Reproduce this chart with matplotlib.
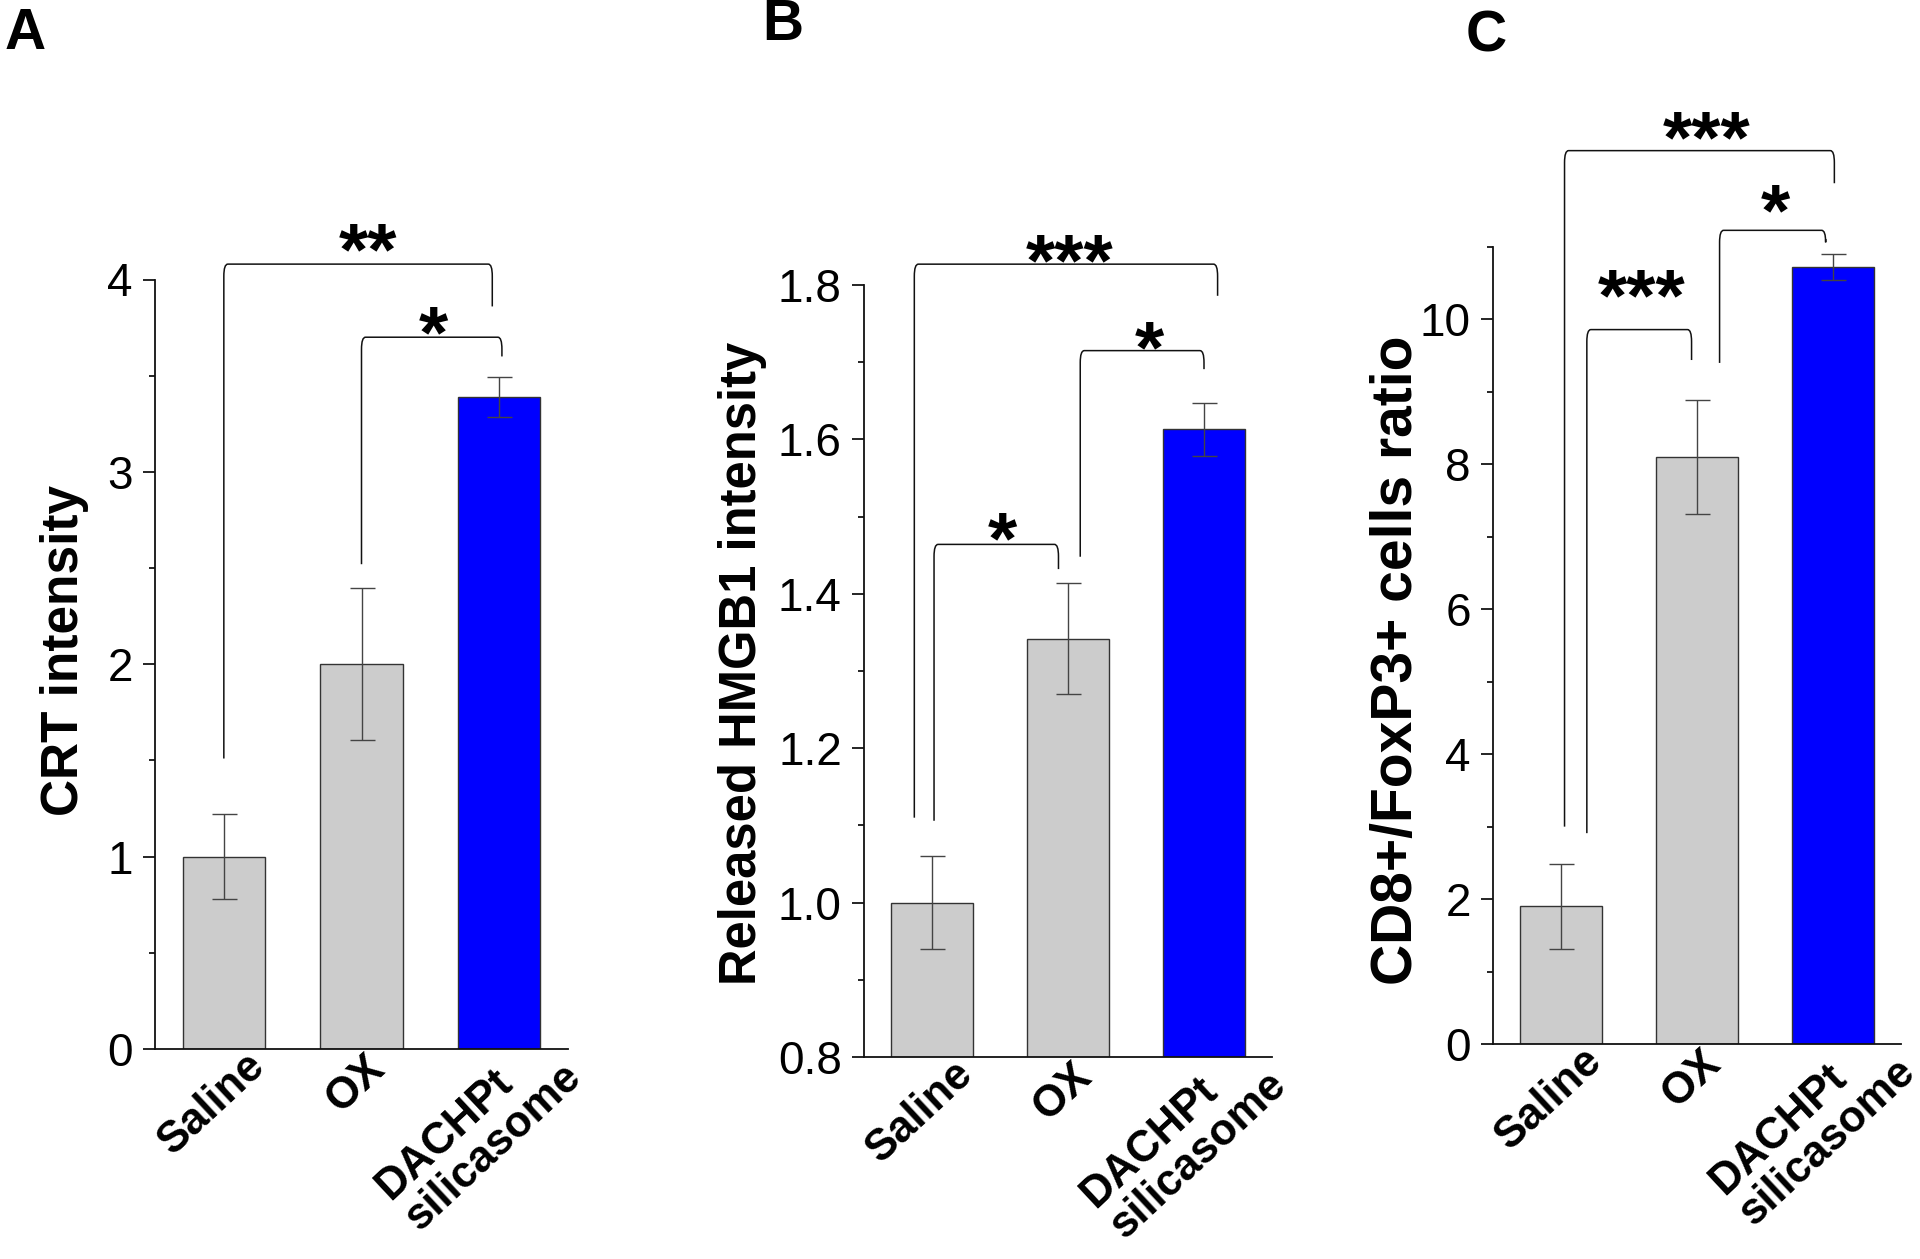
import matplotlib
matplotlib.use("Agg")
import matplotlib.pyplot as plt
from matplotlib.path import Path
from matplotlib.patches import PathPatch
from matplotlib.transforms import ScaledTranslation
from matplotlib.ticker import MultipleLocator, FormatStrFormatter

plt.rcParams['font.family'] = ['Liberation Sans', 'DejaVu Sans']

# ---------------- data ----------------
categories = ["Saline", "OX", "DACHPt\nsilicasome"]
bar_colors = ["#cccccc", "#cccccc", "#0000ff"]

crt_mean = [1.0, 2.0, 3.39]
crt_err = [0.22, 0.395, 0.105]

hmgb1_mean = [1.0, 1.342, 1.613]
hmgb1_err = [0.06, 0.072, 0.034]

ratio_mean = [1.9, 8.1, 10.72]
ratio_err = [0.585, 0.79, 0.18]

# significance brackets: (x_left, x_right, top, left_leg_bottom, right_leg_bottom, label, label_x, label_y)
crt_brackets = [
    (0.0, 1.95, 4.08, 1.51, 3.86, "**", 1.05, 4.24),
    (1.0, 2.02, 3.70, 2.52, 3.60, "*", 1.52, 3.81),
]
hmgb1_brackets = [
    (-0.13, 2.10, 1.827, 1.11, 1.786, "***", 1.01, 1.852),
    (0.015, 0.93, 1.464, 1.106, 1.432, "*", 0.52, 1.493),
    (1.09, 2.00, 1.715, 1.448, 1.691, "*", 1.596, 1.740),
]
ratio_brackets = [
    (0.026, 2.01, 12.33, 3.00, 11.88, "***", 1.07, 12.74),
    (0.19, 0.96, 9.86, 2.91, 9.44, "***", 0.59, 10.55),
    (1.166, 1.946, 11.23, 9.40, 11.11, "*", 1.58, 11.73),
]

crt_label = "CRT intensity"
hmgb1_label = "Released HMGB1 intensity"
ratio_label = "CD8+/FoxP3+ cells ratio"

# ---------------- figure ----------------
W, H = 1920, 1259
fig = plt.figure(figsize=(W / 100, H / 100), dpi=100)

# per-category label nudges in pixels (dx, box-top gap below axis)
label_nudge = [(-12, -4), (-6, -1), (-20, -24)]


def px_rect(left, right, top, bottom):
    return [left / W, 1 - bottom / H, (right - left) / W, (bottom - top) / H]


def draw_panel(rect, means, errs, ylim, major, minor, fmt, brackets):
    ax = fig.add_axes(rect)
    x = list(range(len(means)))
    ax.bar(x, means, width=0.6, color=bar_colors, edgecolor="#333333",
           linewidth=1.0, zorder=2)
    ax.errorbar(x, means, yerr=errs, fmt="none", ecolor="#444444",
                elinewidth=1.0, capsize=9, capthick=1.0, zorder=3)
    ax.set_xlim(-0.5, 2.5)
    ax.set_ylim(*ylim)
    for s in ("top", "right"):
        ax.spines[s].set_visible(False)
    for s in ("left", "bottom"):
        ax.spines[s].set_linewidth(1.3)
        ax.spines[s].set_color("#111111")
    ax.yaxis.set_major_locator(MultipleLocator(major))
    ax.yaxis.set_minor_locator(MultipleLocator(minor))
    ax.yaxis.set_major_formatter(FormatStrFormatter(fmt))
    ax.tick_params(axis="y", which="major", length=9, width=1.2,
                   labelsize=33, pad=7, direction="out")
    ax.tick_params(axis="y", which="minor", length=4.5, width=1.2,
                   direction="out")
    ax.set_xticks([])

    # category labels
    for xi, lab, (dx, gap) in zip(x, categories, label_nudge):
        tr = ax.get_xaxis_transform() + ScaledTranslation(
            dx / 100, -gap / 100, fig.dpi_scale_trans)
        ax.text(xi, 0, lab, transform=tr, rotation=43, ha="center",
                va="top", fontsize=31.5, fontweight="bold",
                multialignment="left", linespacing=1.05, clip_on=False)

    # brackets
    pxx = ax.bbox.width / 3.0
    pxy = ax.bbox.height / (ylim[1] - ylim[0])
    rx = 4.0 / pxx
    ry = 12.0 / pxy
    off = ScaledTranslation(0, -29.5 / 72, fig.dpi_scale_trans)
    for (x1, x2, top, lb, rb, lab, lx, ly) in brackets:
        verts = [(x1, lb), (x1, top - ry), (x1, top), (x1 + rx, top),
                 (x2 - rx, top), (x2, top), (x2, top - ry), (x2, rb)]
        codes = [Path.MOVETO, Path.LINETO, Path.CURVE3, Path.CURVE3,
                 Path.LINETO, Path.CURVE3, Path.CURVE3, Path.LINETO]
        patch = PathPatch(Path(verts, codes), fill=False, edgecolor="#111111",
                          linewidth=1.1, clip_on=False, zorder=4)
        ax.add_patch(patch)
        ax.text(lx, ly, lab, ha="center", va="baseline", fontsize=54,
                fontweight="bold", transform=ax.transData + off,
                clip_on=False, color="black")
    return ax


axA = draw_panel(px_rect(155, 568, 279.5, 1049), crt_mean, crt_err,
                 (0, 4), 1, 0.5, "%d", crt_brackets)
axB = draw_panel(px_rect(864, 1272, 285, 1057), hmgb1_mean, hmgb1_err,
                 (0.8, 1.8), 0.2, 0.1, "%.1f", hmgb1_brackets)
axC = draw_panel(px_rect(1493, 1901, 247, 1044), ratio_mean, ratio_err,
                 (0, 11), 2, 1, "%d", ratio_brackets)

# y-axis labels
for (bx, cy, txt, fs) in [(78, 650, crt_label, 37),
                          (756, 663, hmgb1_label, 36.5),
                          (1412, 660, ratio_label, 41)]:
    fig.text(bx / W, 1 - cy / H, txt, rotation=90, rotation_mode="anchor",
             ha="center", va="baseline", fontsize=fs, fontweight="bold")

# panel letters
for (lx, by, letter) in [(5, 49, "A"), (762, 40, "B"), (1466, 52, "C")]:
    fig.text(lx / W, 1 - by / H, letter, ha="left", va="baseline",
             fontsize=41, fontweight="bold")

fig.savefig("out.png", dpi=100)
